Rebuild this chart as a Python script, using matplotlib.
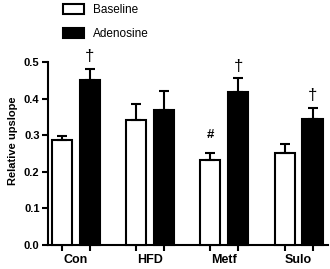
import numpy as np
import matplotlib
matplotlib.use('Agg')
import matplotlib.pyplot as plt

plt.rcParams['font.family'] = ['Liberation Sans', 'DejaVu Sans']

# data
groups = ['Con', 'HFD', 'Metf', 'Sulo']
baseline = [0.287, 0.341, 0.232, 0.251]
baseline_err = [0.011, 0.045, 0.019, 0.024]
adenosine = [0.451, 0.369, 0.419, 0.343]
adenosine_err = [0.030, 0.051, 0.036, 0.032]
base_marks = ['', '', '#', '']
aden_marks = ['\u2020', '', '\u2020', '\u2020']

fig = plt.figure(figsize=(3.3, 2.69), dpi=100)
ax = fig.add_axes([0.145, 0.089, 0.85, 0.681])

x = np.arange(len(groups))
w = 0.27
off = 0.187

ax.bar(x - off, baseline, w, color='white', edgecolor='black', linewidth=1.5,
       yerr=[np.zeros(4), baseline_err], error_kw=dict(ecolor='black', elinewidth=1.5,
       capsize=3.5, capthick=1.5), label='Baseline', zorder=3)
ax.bar(x + off, adenosine, w, color='black', edgecolor='black', linewidth=1.5,
       yerr=[np.zeros(4), adenosine_err], error_kw=dict(ecolor='black', elinewidth=1.5,
       capsize=3.5, capthick=1.5), label='Adenosine', zorder=3)

for i in range(len(groups)):
    if base_marks[i]:
        ax.text(x[i] - off, baseline[i] + baseline_err[i] + 0.033, base_marks[i],
                ha='center', va='bottom', fontsize=9.5, fontweight='bold')
    if aden_marks[i]:
        ax.text(x[i] + off, adenosine[i] + adenosine_err[i] + 0.012, aden_marks[i],
                ha='center', va='bottom', fontsize=12)

# let error bars and bars run above the top of the axis
for child in ax.get_children():
    try:
        child.set_clip_on(False)
    except Exception:
        pass

ax.set_ylim(0, 0.5)
ax.set_xlim(-0.375, 3.4)
ax.set_yticks([0.0, 0.1, 0.2, 0.3, 0.4, 0.5])
ax.set_yticklabels(['0.0', '0.1', '0.2', '0.3', '0.4', '0.5'], fontweight='bold', fontsize=8)
ax.set_xticks(np.concatenate([x - off, x + off]))
ax.set_xticklabels([''] * 8)
for i, g in enumerate(groups):
    ax.text(x[i], -0.024, g, ha='center', va='top', fontsize=9, fontweight='bold')
ax.set_ylabel('Relative upslope', fontsize=8, fontweight='bold', labelpad=4)
ax.yaxis.set_label_coords(-0.105, 0.57)

for s in ['top', 'right']:
    ax.spines[s].set_visible(False)
for s in ['left', 'bottom']:
    ax.spines[s].set_linewidth(1.5)
ax.tick_params(width=1.5, length=4, direction='out', pad=2)

leg = fig.legend(loc='upper left', bbox_to_anchor=(0.158, 1.025), frameon=False,
                 fontsize=8.5, handlelength=1.8, handleheight=0.9, labelspacing=1.0,
                 handletextpad=0.8)

fig.savefig('out.png', dpi=100)
